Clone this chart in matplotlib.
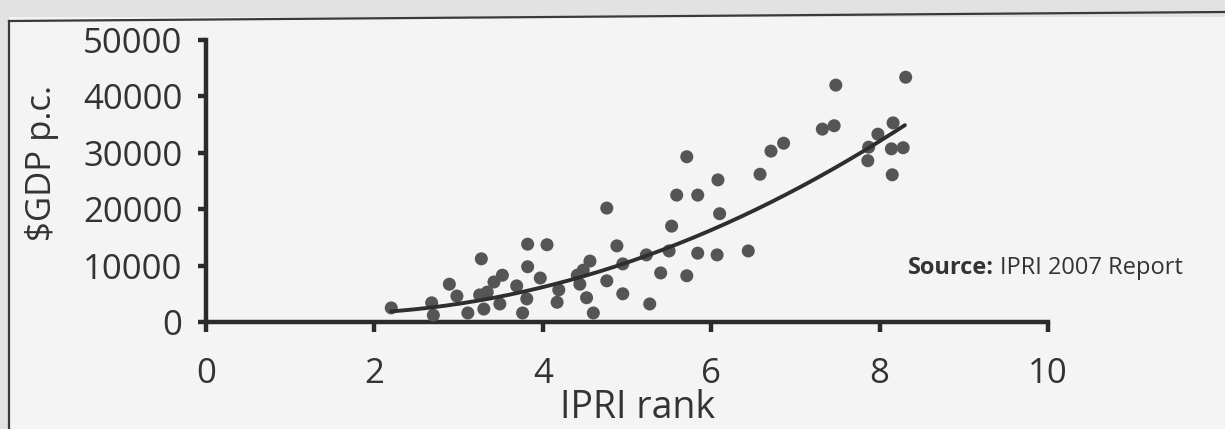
import matplotlib
matplotlib.use("Agg")
import matplotlib.pyplot as plt
import numpy as np
from matplotlib.lines import Line2D

# ---- data ----
ipri_rank = [2.20, 2.68, 2.70, 2.89, 2.98, 3.11, 3.27, 3.25, 3.34, 3.30,
             3.42, 3.52, 3.49, 3.69, 3.81, 3.76, 3.82, 4.05, 3.82, 3.97,
             4.19, 4.17, 4.41, 4.48, 4.56, 4.44, 4.52, 4.60, 4.76, 4.88,
             4.76, 4.95, 4.95, 5.23, 5.27, 5.40, 5.50, 5.53, 5.71, 5.59,
             5.84, 5.71, 5.84, 6.07, 6.10, 6.08, 6.44, 6.58, 6.71, 6.86,
             7.32, 7.46, 7.48, 8.31, 7.98, 8.16, 7.87, 8.14, 8.28, 7.86,
             8.15]
gdp_pc = [2500, 3400, 1200, 6700, 4600, 1600, 11200, 4800, 5300, 2300,
          7100, 8300, 3200, 6400, 4100, 1600, 13800, 13700, 9800, 7800,
          5700, 3500, 8300, 9200, 10800, 6700, 4300, 1600, 20200, 13500,
          7300, 10300, 5000, 11900, 3200, 8700, 12600, 17000, 29300, 22500,
          22500, 8200, 12200, 11900, 19200, 25200, 12600, 26200, 30300, 31700,
          34200, 34800, 42000, 43400, 33300, 35300, 31000, 30700, 30900, 28600,
          26100]

# trend curve
trend_rank = [2.2, 3.02, 3.73, 3.97, 5.64, 5.87, 7.29, 7.77, 8.3]
trend_gdp = [1700, 3550, 5140, 6200, 14000, 15400, 25700, 30100, 34900]

x_ticks = [0, 2, 4, 6, 8, 10]
y_ticks = [0, 10000, 20000, 30000, 40000, 50000]

FONT = "Open Sans"
W, H = 1225, 429
fig = plt.figure(figsize=(W / 100, H / 100), dpi=100)
fig.patch.set_facecolor("#e2e2e2")

# scanned page panel and its frame
fig.patches.append(plt.Rectangle((9 / W, 0), 1, 1 - 17 / H, transform=fig.transFigure,
                                 facecolor="#f4f4f4", edgecolor="none", zorder=-5))
fig.lines.append(Line2D([9 / W, 1], [1 - 21 / H, 1 - 12 / H], transform=fig.transFigure,
                        color="#3a3a3a", lw=1.6, zorder=-4))
fig.lines.append(Line2D([9 / W, 9 / W], [1 - 21 / H, 0], transform=fig.transFigure,
                        color="#3a3a3a", lw=1.6, zorder=-4))

ax = fig.add_axes([206 / W, 1 - 322 / H, 842 / W, 282 / H])
ax.set_zorder(2)
ax.set_facecolor("none")

ax.scatter(ipri_rank, gdp_pc, s=88, color="#555555", edgecolors="none", zorder=3,
           clip_on=False)

coef = np.polyfit(trend_rank, trend_gdp, 2)
xs = np.linspace(min(trend_rank), max(trend_rank), 200)
ax.plot(xs, np.polyval(coef, xs), color="#2e2e2e", lw=2.8, zorder=4,
        solid_capstyle="round")

ax.set_xlim(0, 10)
ax.set_ylim(0, 50000)
ax.set_xticks(x_ticks)
ax.set_yticks(y_ticks)
ax.set_xticklabels([str(v) for v in x_ticks])
ax.set_yticklabels([str(v) for v in y_ticks])

for side in ["top", "right"]:
    ax.spines[side].set_visible(False)
for side in ["left", "bottom"]:
    ax.spines[side].set_linewidth(3.2)
    ax.spines[side].set_color("#2b2b2b")
    ax.spines[side].set_capstyle("projecting")

ax.tick_params(axis="both", direction="out", width=3.2, color="#2b2b2b",
               labelsize=25, labelcolor="#333333")
ax.tick_params(axis="y", length=6, pad=11)
ax.tick_params(axis="x", length=7.5, pad=18)
for lab in ax.get_xticklabels() + ax.get_yticklabels():
    lab.set_fontfamily(FONT)

fig.text(42 / W, 1 - 163 / H, "$GDP p.c.", rotation=90, ha="center", va="center",
         fontsize=25, family=FONT, color="#333333")
fig.text(638 / W, 2 / H, "IPRI rank", ha="center", va="bottom",
         fontsize=27, family=FONT, color="#333333")

t1 = fig.text(908 / W, 1 - 274 / H, "Source:", ha="left", va="baseline",
              fontsize=17, family=FONT, weight="bold", color="#333333")
fig.canvas.draw()
bb = t1.get_window_extent(renderer=fig.canvas.get_renderer())
fig.text((bb.x1 + 6) / W, 1 - 274 / H, "IPRI 2007 Report", ha="left", va="baseline",
         fontsize=17, family=FONT, color="#333333")

fig.savefig("out.png", dpi=100, facecolor=fig.get_facecolor())
